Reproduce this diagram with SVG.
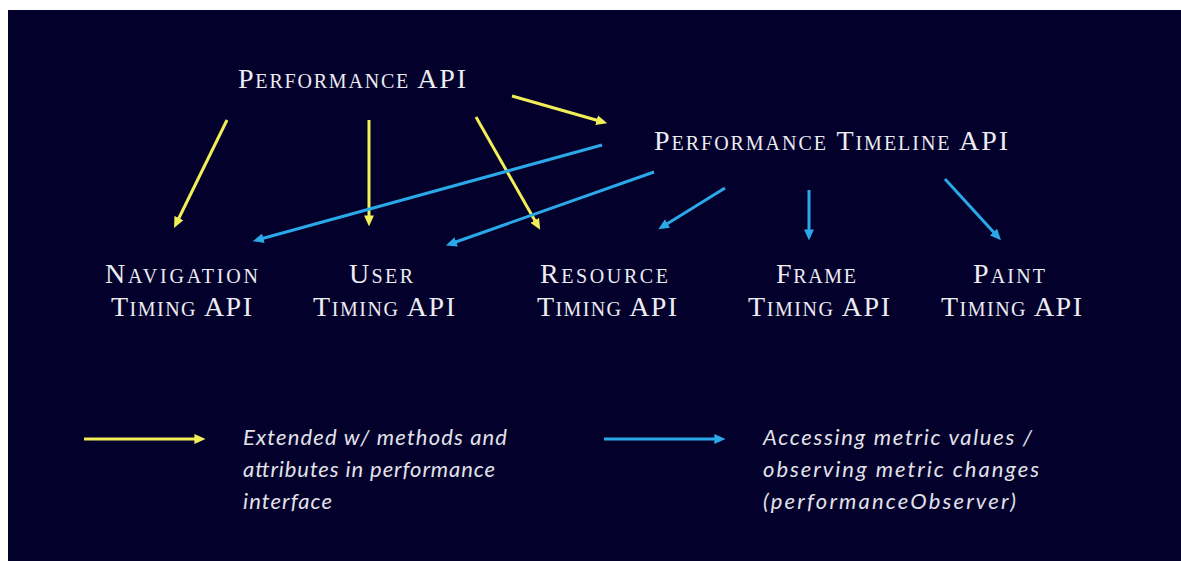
<svg xmlns="http://www.w3.org/2000/svg" width="1181" height="561" viewBox="0 0 1181 561">
  <style>
    .node { font-family: "Liberation Serif", "DejaVu Serif", serif; font-variant: small-caps; font-size: 28px; fill: #ececf2; text-anchor: middle; }
    .legend { font-family: Lato, "Liberation Sans", sans-serif; font-style: italic; font-size: 22px; fill: #e2e2ea; }
    .y { stroke: #f2ee58; stroke-width: 3; fill: none; marker-end: url(#ay); }
    .b { stroke: #2ba8e8; stroke-width: 3; fill: none; marker-end: url(#ab); }
  </style>
  <defs>
    <marker id="ay" markerUnits="userSpaceOnUse" markerWidth="11" markerHeight="11" viewBox="0 0 10 10" refX="6" refY="5" orient="auto">
      <path d="M0,0.5 L10,5 L0,9.5 z" fill="#f2ee58"/>
    </marker>
    <marker id="ab" markerUnits="userSpaceOnUse" markerWidth="11" markerHeight="11" viewBox="0 0 10 10" refX="6" refY="5" orient="auto">
      <path d="M0,0.5 L10,5 L0,9.5 z" fill="#2ba8e8"/>
    </marker>
  </defs>
  <rect x="0" y="0" width="1181" height="561" fill="#ffffff"/>
  <rect x="8" y="10" width="1173" height="551" fill="#03012c"/>

  <g id="performance-api">
    <text class="node" x="352" y="88" textLength="228" lengthAdjust="spacing">Performance API</text>
  </g>
  <g id="performance-timeline-api">
    <text class="node" x="831" y="150" textLength="354" lengthAdjust="spacing">Performance Timeline API</text>
  </g>
  <g id="navigation-timing-api">
    <text class="node" x="181.5" y="283" textLength="153" lengthAdjust="spacing">Navigation</text>
    <text class="node" x="181.5" y="316" textLength="141" lengthAdjust="spacing">Timing API</text>
  </g>
  <g id="user-timing-api">
    <text class="node" x="381" y="283" textLength="64" lengthAdjust="spacing">User</text>
    <text class="node" x="384" y="316" textLength="142" lengthAdjust="spacing">Timing API</text>
  </g>
  <g id="resource-timing-api">
    <text class="node" x="604" y="283" textLength="128" lengthAdjust="spacing">Resource</text>
    <text class="node" x="607" y="316" textLength="140" lengthAdjust="spacing">Timing API</text>
  </g>
  <g id="frame-timing-api">
    <text class="node" x="816" y="283" textLength="80" lengthAdjust="spacing">Frame</text>
    <text class="node" x="819" y="316" textLength="142" lengthAdjust="spacing">Timing API</text>
  </g>
  <g id="paint-timing-api">
    <text class="node" x="1009" y="283" textLength="72" lengthAdjust="spacing">Paint</text>
    <text class="node" x="1011.5" y="316" textLength="141" lengthAdjust="spacing">Timing API</text>
  </g>

  <g id="connectors">
    <line class="y" x1="227" y1="120" x2="176" y2="224"/>
    <line class="y" x1="369" y1="120" x2="369" y2="222"/>
    <line class="y" x1="476" y1="117" x2="538" y2="226"/>
    <line class="y" x1="512" y1="96" x2="603" y2="122"/>
    <line class="b" x1="602" y1="145" x2="257" y2="240"/>
    <line class="b" x1="654" y1="172" x2="450" y2="244"/>
    <line class="b" x1="725" y1="188" x2="662" y2="227"/>
    <line class="b" x1="809" y1="190" x2="809" y2="236"/>
    <line class="b" x1="945" y1="179" x2="998" y2="237"/>
  </g>

  <g id="legend-extended">
    <line class="y" x1="84" y1="439" x2="201" y2="439"/>
    <text class="legend" x="243" y="445" textLength="264" lengthAdjust="spacing">Extended w/ methods and</text>
    <text class="legend" x="243" y="477" textLength="252" lengthAdjust="spacing">attributes in performance</text>
    <text class="legend" x="243" y="509" textLength="89" lengthAdjust="spacing">interface</text>
  </g>
  <g id="legend-accessing">
    <line class="b" x1="604" y1="439" x2="721" y2="439"/>
    <text class="legend" x="763" y="445" textLength="269" lengthAdjust="spacing">Accessing metric values /</text>
    <text class="legend" x="763" y="477" textLength="276" lengthAdjust="spacing">observing metric changes</text>
    <text class="legend" x="763" y="509" textLength="253" lengthAdjust="spacing">(performanceObserver)</text>
  </g>
</svg>
